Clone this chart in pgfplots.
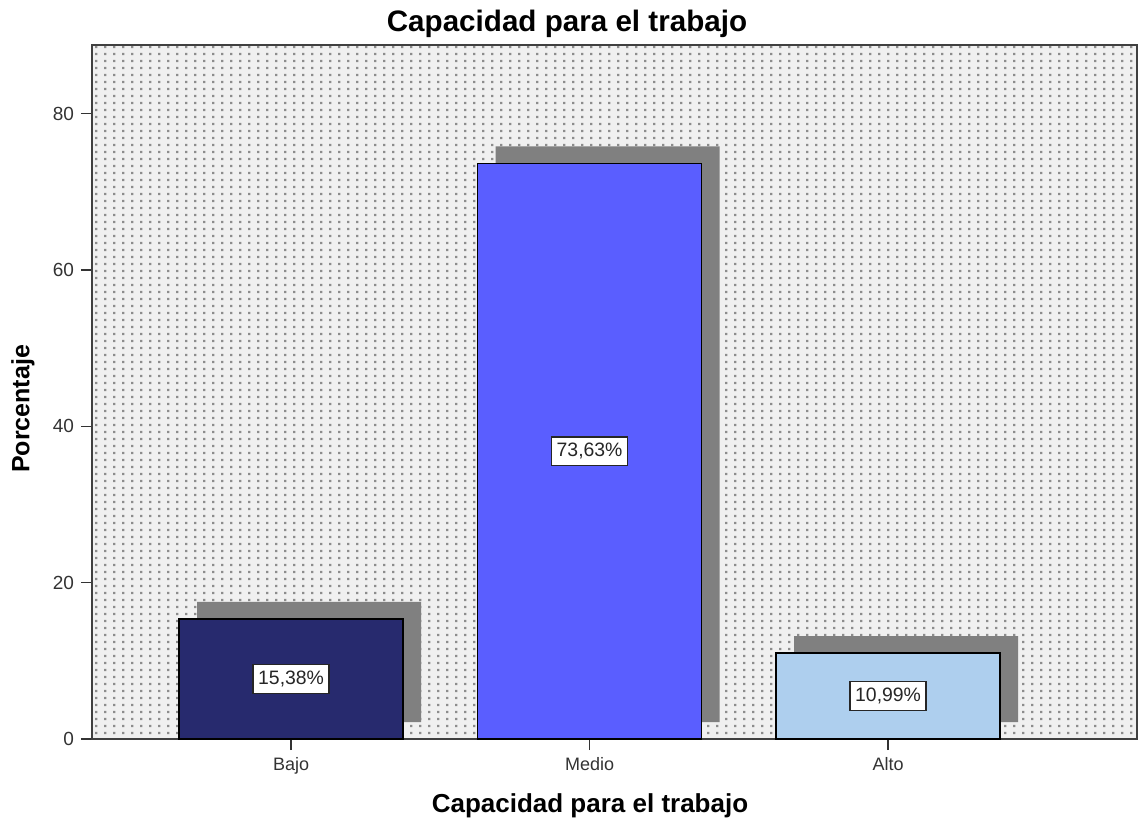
\documentclass[border=0pt]{standalone}
\usepackage{pgfplots}
\pgfplotsset{compat=1.18}
\usetikzlibrary{patterns.meta}
\usepackage{fontspec}
\setmainfont{Liberation Sans}

\definecolor{cBajo}{HTML}{272A6E}
\definecolor{cMedio}{HTML}{5A5EFF}
\definecolor{cAlto}{HTML}{AECFEE}
\definecolor{cShadow}{HTML}{808080}

\tikzdeclarepattern{
  name=spssdots,
  type=uncolored,
  bounding box={(0,0) and (4.65pt,3.25pt)},
  tile size={(4.65pt,3.25pt)},
  code={\fill (1.7pt,1.05pt) rectangle (2.9pt,2.2pt);}
}

\begin{document}
\begin{tikzpicture}
\begin{axis}[
  name=ax,
  scale only axis, width=522.5pt, height=347pt,
  xmin=-0.667, xmax=2.834, ymin=0, ymax=88.78,
  xtick={0,1,2}, xticklabels={Bajo,Medio,Alto},
  ytick={0,20,40,60,80},
  tick pos=left, tick align=outside, major tick length=5.5pt,
  tick style={black!80, line width=0.8pt},
  axis line style={black!75, line width=1pt},
  /pgf/number format/assume math mode=true,
  yticklabel style={font=\fontsize{9.5}{11}\selectfont, text=black!80},
  xticklabel style={font=\fontsize{9}{11}\selectfont, text=black!80},
  axis background/.style={preaction={fill=black!6}, pattern={spssdots}, pattern color=black!45},
  clip=false,
]
\addplot[ybar, bar width=0.75, bar shift=0pt, fill=cShadow, draw=none,
  transform canvas={xshift=9pt,yshift=8.5pt}]
  coordinates {(0,15.38) (1,73.63) (2,10.99)};
\addplot[ybar, bar width=0.75, bar shift=0pt, fill=cBajo, draw=black, line width=0.8pt]
  coordinates {(0,15.38)};
\addplot[ybar, bar width=0.75, bar shift=0pt, fill=cMedio, draw=black, line width=0.8pt]
  coordinates {(1,73.63)};
\addplot[ybar, bar width=0.75, bar shift=0pt, fill=cAlto, draw=black, line width=0.8pt]
  coordinates {(2,10.99)};
\addplot[draw=none, mark=none, nodes near coords, point meta=explicit symbolic,
  every node near coord/.append style={anchor=center, draw=black!85, line width=0.8pt,
    fill=white, font=\fontsize{9.7}{11}\selectfont, inner xsep=2.5pt, inner ysep=3.2pt, text=black!85}]
  coordinates {(0,7.69) [15,38\%] (1,36.815) [73,63\%] (2,5.495) [10,99\%]};
\end{axis}
\node[anchor=base, font=\fontsize{14.8}{17}\selectfont\bfseries] at ([shift={(237.5pt,6.5pt)}]ax.north west) {Capacidad para el trabajo};
\node[anchor=base, font=\fontsize{13}{15}\selectfont\bfseries] at ([shift={(249pt,-36.8pt)}]ax.south west) {Capacidad para el trabajo};
\node[anchor=center, rotate=90, font=\fontsize{12.5}{15}\selectfont\bfseries] at ([shift={(-34.5pt,165pt)}]ax.south west) {Porcentaje};
\pgfresetboundingbox
\path ([shift={(-46pt,-40.5pt)}]ax.south west) rectangle ([shift={(1pt,22.5pt)}]ax.north east);
\end{tikzpicture}
\end{document}
